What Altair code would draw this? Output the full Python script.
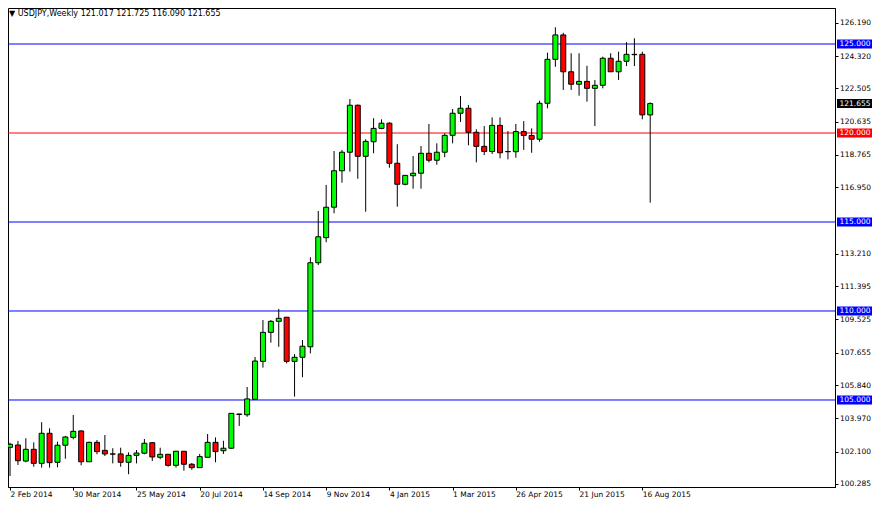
import altair as alt
import pandas as pd

# ---- data (weekly USDJPY candles, one per week from 2 Feb 2014) ----
week_labels = ["2 Feb 2014", "30 Mar 2014", "25 May 2014", "20 Jul 2014", "14 Sep 2014",
               "9 Nov 2014", "4 Jan 2015", "1 Mar 2015", "26 Apr 2015", "21 Jun 2015",
               "16 Aug 2015"]

opens = [102.34, 102.47, 101.57, 102.23, 101.44, 103.13, 101.50, 102.46, 102.90, 103.26,
         101.53, 102.62, 102.17, 101.97, 101.97, 101.50, 101.89, 102.01, 102.60, 101.78,
         101.95, 101.33, 102.12, 101.39, 101.20, 101.78, 102.62, 102.15, 102.29, 104.19,
         104.17, 105.04, 107.17, 108.80, 109.42, 109.65, 107.17, 107.40, 107.99, 112.71,
         114.12, 115.83, 117.88, 118.92, 121.56, 118.69, 119.51, 120.26, 120.55, 118.30,
         117.12, 117.60, 117.74, 118.86, 118.47, 118.92, 119.87, 121.11, 121.39, 120.04,
         119.25, 118.96, 120.43, 118.95, 118.95, 120.08, 119.86, 119.65, 121.67, 124.14,
         125.51, 123.44, 122.74, 122.90, 122.51, 122.68, 124.20, 123.44, 124.03, 124.42,
         124.42, 121.017]
highs = [102.60, 102.70, 102.85, 102.62, 103.75, 103.41, 102.66, 102.98, 104.16, 103.30,
         102.66, 102.75, 103.03, 102.29, 102.32, 102.06, 102.19, 102.81, 102.62, 102.32,
         101.95, 102.14, 102.12, 101.46, 101.97, 103.09, 102.90, 102.71, 104.27, 104.23,
         105.73, 107.42, 109.49, 109.49, 110.11, 109.65, 107.58, 108.37, 113.02, 115.62,
         117.08, 118.99, 119.05, 121.91, 121.60, 119.65, 120.83, 120.77, 120.60, 119.37,
         117.64, 118.71, 119.27, 120.51, 119.42, 119.98, 121.35, 122.08, 121.57, 120.21,
         120.39, 120.88, 120.88, 120.11, 120.51, 120.67, 120.26, 121.81, 124.51, 125.94,
         125.63, 124.48, 124.48, 123.78, 122.98, 124.29, 124.48, 124.57, 125.10, 125.32,
         124.57, 121.725]
lows = [100.73, 101.35, 101.50, 101.25, 101.20, 101.20, 101.22, 101.70, 102.79, 101.33,
        101.52, 101.95, 101.85, 101.44, 101.25, 100.83, 101.44, 101.95, 101.57, 101.67,
        101.25, 101.20, 101.03, 101.08, 101.20, 101.78, 101.50, 101.97, 102.27, 103.54,
        104.06, 105.04, 106.82, 108.22, 107.99, 107.06, 105.19, 106.28, 107.62, 112.58,
        113.86, 115.49, 117.21, 117.83, 117.43, 115.58, 118.86, 120.21, 118.05, 115.86,
        117.06, 116.87, 116.87, 118.35, 118.22, 118.64, 119.42, 120.62, 119.31, 118.35,
        118.76, 118.82, 118.58, 118.52, 118.61, 119.05, 118.89, 119.51, 121.39, 123.72,
        122.42, 122.42, 122.10, 121.76, 120.39, 122.51, 123.44, 122.98, 123.76, 123.76,
        120.77, 116.090]
closes = [102.51, 101.59, 102.23, 101.44, 103.13, 101.48, 102.46, 102.92, 103.24, 101.53,
          102.62, 102.10, 101.97, 101.96, 101.50, 101.89, 102.02, 102.57, 101.80, 101.95,
          101.33, 102.12, 101.39, 101.20, 101.82, 102.62, 102.10, 102.29, 104.25, 104.21,
          105.06, 107.19, 108.80, 109.42, 109.59, 107.17, 107.40, 108.02, 112.71, 114.17,
          115.83, 117.88, 118.92, 121.56, 118.69, 119.53, 120.26, 120.55, 118.30, 117.12,
          117.62, 117.74, 118.86, 118.47, 118.92, 119.87, 121.11, 121.39, 120.04, 119.25,
          118.96, 120.43, 118.89, 118.96, 120.08, 119.86, 119.65, 121.67, 124.14, 125.51,
          123.44, 122.74, 122.90, 122.51, 122.68, 124.20, 123.44, 124.03, 124.42, 124.40,
          121.02, 121.655]

price_ticks = [126.190, 124.320, 122.505, 120.635, 118.765, 116.950, 113.210, 111.395,
               109.525, 107.655, 105.840, 103.970, 102.100, 100.285]

level_prices = [125.0, 120.0, 115.0, 110.0, 105.0]
level_colors = ["#0000FF", "#FF0000", "#0000FF", "#0000FF", "#0000FF"]

symbol = "USDJPY,Weekly"

# ---- tables ----
candles = pd.DataFrame({"week": list(range(len(opens))), "open": opens, "high": highs,
                        "low": lows, "close": closes})
levels = pd.DataFrame({"price": level_prices, "color": level_colors})
tags = pd.DataFrame({
    "price": level_prices + [closes[-1]],
    "color": level_colors + ["#000000"],
    "label": [f"{p:.3f}" for p in level_prices + [closes[-1]]],
})
header = pd.DataFrame({"text": [
    f"\u25BC  {symbol}  {opens[-1]:.3f} {highs[-1]:.3f} {lows[-1]:.3f} {closes[-1]:.3f}"]})

FONT = "DejaVu Sans"
FS = 7.5

x_scale = alt.Scale(domain=[0.375, 103.75], nice=False, zero=False)
y_scale = alt.Scale(domain=[100.112, 127.023], nice=False, zero=False)

label_array = "[" + ",".join(f"'{s}'" for s in week_labels) + "]"
x_axis = alt.Axis(values=[8 * k for k in range(len(week_labels))],
                  labelExpr=f"{label_array}[datum.value / 8]",
                  title=None, grid=False, domainColor="black", tickColor="black",
                  labelColor="black", labelFont=FONT, labelFontSize=FS, tickSize=3,
                  labelAlign="left", labelBaseline="top", labelPadding=0,
                  labelFlush=False, labelOverlap=False, labelBound=False)
y_axis = alt.Axis(orient="right", values=price_ticks, format=".3f", title=None, grid=False,
                  domainColor="black", tickColor="black", labelColor="black",
                  labelFont=FONT, labelFontSize=FS, tickSize=3, labelPadding=1.5,
                  labelBaseline="middle", labelOverlap=False, labelFlush=False,
                  labelBound=False)


def price_y(field):
    return alt.Y(field, scale=y_scale, axis=y_axis)


base = alt.Chart(candles).encode(x=alt.X("week:Q", scale=x_scale, axis=x_axis))

wicks = base.mark_rule(color="black", strokeWidth=1, clip=True).encode(
    y=price_y("low:Q"), y2="high:Q")

bodies = base.mark_bar(size=5, stroke="black", strokeWidth=1, clip=True).encode(
    y=price_y("open:Q"),
    y2="close:Q",
    color=alt.condition("datum.close >= datum.open", alt.value("#00FF00"), alt.value("#FF0000")),
)

level_lines = alt.Chart(levels).mark_rule(strokeWidth=1, clip=True).encode(
    y=price_y("price:Q"),
    color=alt.Color("color:N", scale=None),
)

tag_boxes = alt.Chart(tags).mark_tick(orient="horizontal", size=43, thickness=9,
                                      opacity=1, clip=False).encode(
    x=alt.value(850.5),
    y=price_y("price:Q"),
    color=alt.Color("color:N", scale=None),
)

tag_text = alt.Chart(tags).mark_text(align="left", baseline="middle", font=FONT,
                                     fontSize=FS, color="white", clip=False).encode(
    x=alt.value(831.5),
    y=price_y("price:Q"),
    text="label:N",
)

title_text = alt.Chart(header).mark_text(align="left", baseline="middle", font=FONT,
                                         fontSize=8, color="black").encode(
    x=alt.value(1), y=alt.value(5.5), text="text:N")

chart = alt.layer(level_lines, wicks, bodies, tag_boxes, tag_text, title_text).properties(
    width=827, height=479,
    padding={"left": 0, "top": 0, "right": 37, "bottom": 12},
    autosize=alt.AutoSizeParams(type="none"),
    background="white",
).configure_view(stroke="black", strokeWidth=1).configure_axis(labelOverlap=False)

chart.save("out.html", embed_options={"renderer": "svg", "actions": False})
